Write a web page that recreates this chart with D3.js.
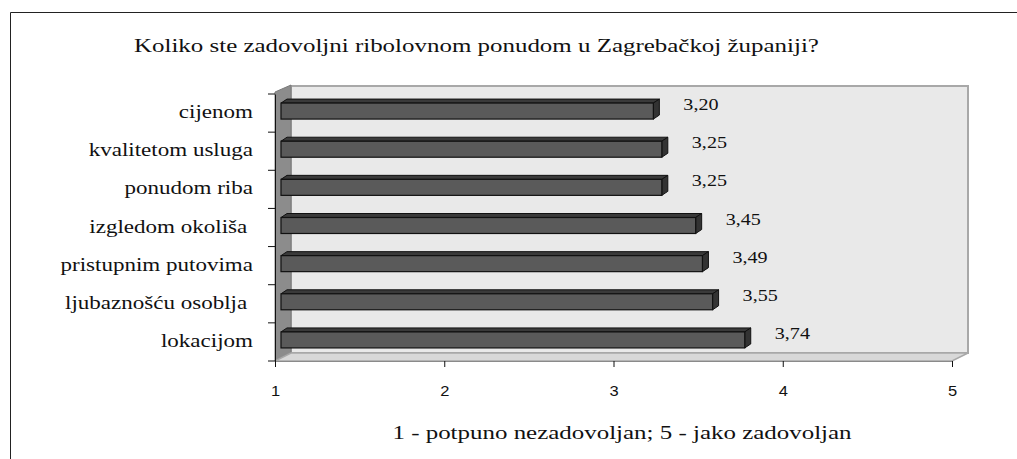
<!DOCTYPE html>
<html>
<head>
<meta charset="utf-8">
<script src="https://cdn.jsdelivr.net/npm/d3@7"></script>
<style>
  body { margin: 0; background: #fff; }
  svg { display: block; }
  .serif { font-family: "Liberation Serif", "Times New Roman", Times, serif; }
  .sans { font-family: "Liberation Sans", Arial, Helvetica, sans-serif; }
</style>
</head>
<body>
<svg id="chart" width="1017" height="459"></svg>
<script>
var categories = ["cijenom", "kvalitetom usluga", "ponudom riba", "izgledom okoliša ",
  "pristupnim putovima", "ljubaznošću osoblja ", "lokacijom"];
var values = [3.20, 3.25, 3.25, 3.45, 3.49, 3.55, 3.74];
var labels = ["3,20", "3,25", "3,25", "3,45", "3,49", "3,55", "3,74"];
var ticks = [1, 2, 3, 4, 5];
var title = "Koliko ste zadovoljni ribolovnom ponudom u Zagrebačkoj županiji?";
var xTitle = "1 - potpuno nezadovoljan; 5 - jako zadovoljan";

var svg = d3.select("#chart");

// the original picture is stretched sideways, so text gets a wider x scale
var stretch = 1.28;
function place(px, py, k) {
  return `translate(${px},${py}) scale(${k},1)`;
}

// outer frame (runs off the right and bottom of the picture)
svg.append("path")
  .attr("d", "M10.5,470 L10.5,12.5 L1030,12.5")
  .attr("fill", "none")
  .attr("stroke", "#222")
  .attr("stroke-width", 1);

var x = d3.scaleLinear().domain([1, 5]).range([275, 952]);
var y = d3.scaleBand().domain(categories).range([94, 361]).padding(0);

// 3d depth of the walls
var dx = 16, dy = -8;
var plotTop = y.range()[0], plotBottom = y.range()[1];
var x0 = x(1), x1 = x(5);

// back wall
svg.append("rect")
  .attr("x", x0 + dx)
  .attr("y", plotTop + dy)
  .attr("width", x1 - x0)
  .attr("height", plotBottom - plotTop)
  .attr("fill", "#e9e9e9")
  .attr("stroke", "#a8a8a8")
  .attr("stroke-width", 2);

// left wall
svg.append("polygon")
  .attr("points", [[x0, plotTop - 2], [x0 + dx, plotTop + dy - 1], [x0 + dx, plotBottom + dy], [x0, plotBottom]].join(" "))
  .attr("fill", "#8c8c8c")
  .attr("stroke", "#7a7a7a")
  .attr("stroke-width", 1);

// floor
svg.append("polygon")
  .attr("points", [[x0, plotBottom], [x1, plotBottom], [x1 + dx, plotBottom + dy], [x0 + dx, plotBottom + dy]].join(" "))
  .attr("fill", "#d8d8d8")
  .attr("stroke", "#a8a8a8")
  .attr("stroke-width", 1.5);

// bars
var bx = 6, bdx = 6, bdy = -4, bh = 16;
var bars = svg.selectAll("g.bar")
  .data(values)
  .enter()
  .append("g")
  .attr("class", "bar");

bars.each(function(v, i) {
  var g = d3.select(this);
  var cy = y(categories[i]) + y.bandwidth() / 2;
  var l = x(1) + bx, r = x(v) + bx;
  var t = cy - 10, b = t + bh;

  g.append("polygon")
    .attr("points", [[l, t], [r, t], [r + bdx, t + bdy], [l + bdx, t + bdy]].join(" "))
    .attr("fill", "#3a3a3a")
    .attr("stroke", "#111")
    .attr("stroke-width", 1);

  g.append("polygon")
    .attr("points", [[r, t], [r + bdx, t + bdy], [r + bdx, b + bdy], [r, b]].join(" "))
    .attr("fill", "#333")
    .attr("stroke", "#111")
    .attr("stroke-width", 1);

  g.append("rect")
    .attr("x", l)
    .attr("y", t)
    .attr("width", r - l)
    .attr("height", bh)
    .attr("fill", "#5a5a5a")
    .attr("stroke", "#111")
    .attr("stroke-width", 1.2);
});

// value labels
svg.selectAll("text.value")
  .data(values)
  .enter()
  .append("text")
  .attr("class", "value serif")
  .attr("transform", (d, i) => place(x(d) + 36, y(categories[i]) + y.bandwidth() / 2 - 3, 1.22))
  .attr("font-size", 16.5)
  .attr("fill", "#111")
  .text((d, i) => labels[i]);

// y axis
var yAxis = svg.append("g")
  .attr("transform", `translate(${x0},0)`)
  .call(d3.axisLeft(y).tickSize(0).tickFormat(""));
yAxis.select(".domain").attr("stroke", "#111");
svg.selectAll("line.ytick")
  .data(d3.range(categories.length + 1))
  .enter()
  .append("line")
  .attr("class", "ytick")
  .attr("x1", x0 - 7)
  .attr("x2", x0)
  .attr("y1", d => plotTop + d * y.step())
  .attr("y2", d => plotTop + d * y.step())
  .attr("stroke", "#111");

svg.selectAll("text.cat")
  .data(categories)
  .enter()
  .append("text")
  .attr("class", "cat serif")
  .attr("transform", d => place(253, y(d) + y.bandwidth() / 2 + 5, stretch))
  .attr("text-anchor", "end")
  .style("white-space", "pre")
  .attr("font-size", 18)
  .attr("fill", "#111")
  .text(d => d);

// x axis
var xAxis = svg.append("g")
  .attr("transform", `translate(0,${plotBottom})`)
  .call(d3.axisBottom(x).tickValues(ticks).tickSize(6).tickPadding(18).tickFormat(d3.format("d")));
xAxis.attr("font-family", null).attr("font-size", null);
xAxis.select(".domain").attr("stroke", "#8a8a8a");
xAxis.selectAll(".tick line").attr("stroke", "#111");
xAxis.selectAll(".tick text")
  .attr("class", "sans")
  .attr("font-size", 15)
  .attr("transform", "scale(1.1,1)")
  .attr("fill", "#111");

// titles
svg.append("text")
  .attr("class", "serif")
  .attr("transform", place(134, 52, stretch))
  .attr("font-size", 19.5)
  .attr("fill", "#111")
  .text(title);

svg.append("text")
  .attr("class", "serif")
  .attr("transform", place(622, 439, stretch))
  .attr("text-anchor", "middle")
  .attr("font-size", 19.5)
  .attr("fill", "#111")
  .text(xTitle);
</script>
</body>
</html>
